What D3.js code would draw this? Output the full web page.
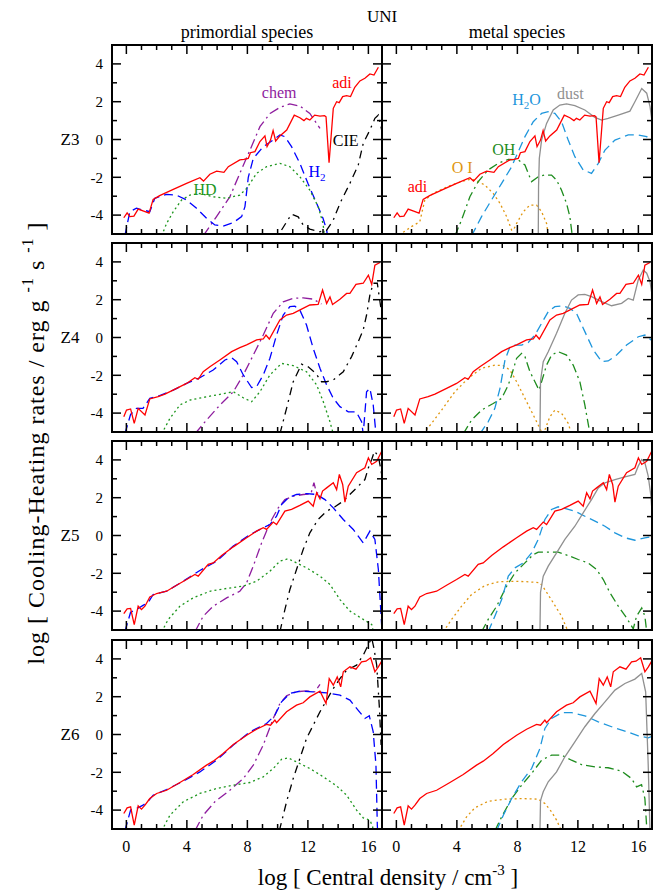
<!DOCTYPE html>
<html>
<head>
<meta charset="utf-8">
<script src="https://cdn.jsdelivr.net/npm/d3@7"></script>
<style>
  body { margin: 0; background: #fff; }
</style>
</head>
<body>
<svg width="654" height="890" font-family="'Liberation Serif', 'DejaVu Serif', serif"></svg>
<script>
// row labels and axis ticks
const rowNames = ["Z3", "Z4", "Z5", "Z6"];
const xTicks = [0, 4, 8, 12, 16];
const yTicks = [-4, -2, 0, 2, 4];

// adiabatic heating (same curve in both columns)
const adiZ3 = [[-0.17,-4.14],[0.05,-3.88],[0.23,-4.08],[0.5,-4.05],[0.78,-3.68],[1.1,-3.78],[1.5,-3.9],[1.77,-3.17],[2.2,-2.97],[3.1,-2.64],[3.98,-2.32],[4.86,-2.02],[5.1,-2.2],[5.52,-1.84],[5.97,-1.67],[6.45,-1.74],[6.74,-1.44],[7.5,-1.08],[7.77,-1.05],[8.06,-1.0],[8.2,-0.7],[8.5,-0.64],[8.83,-0.11],[9.16,0.19],[9.3,-0.38],[9.53,-0.03],[9.7,0.47],[9.87,-0.08],[10.15,0.19],[10.6,0.5],[11.1,1.29],[11.47,1.15],[11.74,1.0],[11.9,1.12],[12.13,1.03],[12.45,1.29],[12.8,1.24],[13.1,1.26],[13.2,1.2],[13.4,-1.23],[13.68,1.65],[13.9,2.0],[14.07,1.95],[14.3,2.27],[14.56,2.32],[14.82,2.27],[15.1,2.76],[15.44,3.1],[15.77,3.24],[16.1,3.47],[16.37,3.41],[16.66,3.82]];
const adiZ4 = [[-0.17,-4.19],[0.01,-3.84],[0.28,-3.78],[0.52,-4.54],[0.78,-3.75],[1.23,-4.1],[1.55,-3.25],[2.1,-3.13],[2.55,-3.0],[3.32,-2.69],[3.98,-2.43],[4.53,-2.13],[4.75,-2.21],[5.08,-1.81],[5.52,-1.55],[6.18,-1.19],[6.96,-0.75],[7.5,-0.54],[7.95,-0.39],[8.61,-0.13],[9.05,-0.08],[9.23,0.13],[9.45,-0.08],[10.15,0.93],[10.59,1.19],[11.03,1.28],[11.58,1.5],[12.13,1.72],[12.68,1.75],[12.97,2.51],[13.24,1.8],[13.46,2.15],[13.63,1.75],[14.12,2.02],[14.56,2.33],[14.78,2.33],[15.18,2.81],[15.66,2.87],[16.0,3.3],[16.22,2.81],[16.43,3.83],[16.77,3.97]];
const adiZ5 = [[-0.17,-4.13],[0.05,-3.88],[0.28,-3.86],[0.52,-4.71],[0.78,-3.74],[1.0,-3.92],[1.23,-3.74],[1.55,-3.25],[2.0,-3.07],[2.66,-2.95],[3.32,-2.63],[3.98,-2.33],[4.53,-2.06],[4.75,-2.15],[5.41,-1.53],[5.74,-1.45],[6.3,-1.06],[7.07,-0.6],[7.95,-0.12],[8.61,0.23],[9.05,0.41],[9.27,0.32],[9.71,0.71],[9.93,0.58],[10.48,1.29],[10.92,1.38],[11.47,1.59],[12.02,1.82],[12.35,1.55],[12.58,2.26],[12.8,1.94],[12.97,2.35],[13.24,2.52],[13.68,2.79],[13.9,2.43],[14.08,3.23],[14.3,2.7],[14.45,1.76],[14.67,2.61],[15.22,3.32],[15.77,3.58],[16.0,4.11],[16.22,3.76],[16.55,3.93],[16.88,4.46]];
const adiZ6 = [[-0.17,-4.18],[0.05,-3.88],[0.28,-3.83],[0.52,-4.8],[0.78,-3.77],[1.0,-3.95],[1.23,-3.74],[1.55,-3.39],[2.0,-3.12],[2.66,-2.95],[3.54,-2.54],[4.42,-2.12],[5.3,-1.62],[5.74,-1.41],[6.4,-1.01],[7.07,-0.53],[7.95,-0.04],[8.61,0.28],[9.27,0.53],[9.53,0.49],[9.82,0.76],[9.93,0.63],[10.59,1.2],[11.25,1.55],[11.69,1.68],[12.13,1.99],[12.8,2.29],[13.2,1.64],[13.41,2.96],[13.68,2.61],[13.94,3.05],[14.17,2.52],[14.34,3.32],[14.78,3.58],[15.18,3.46],[15.55,3.84],[15.84,3.88],[16.15,4.06],[16.43,3.32],[16.66,3.58],[16.88,3.88]];

// primordial species
const h2Z3 = [[-0.1,-5.1],[0.23,-3.82],[0.67,-3.64],[1.1,-3.73],[1.55,-3.82],[1.88,-3.11],[2.66,-2.9],[3.3,-2.94],[3.98,-3.2],[4.64,-3.64],[5.3,-4.17],[5.85,-4.52],[6.4,-4.58],[7.06,-4.4],[7.62,-4.08],[7.84,-3.55],[8.06,-2.0],[8.39,-1.0],[9.05,-0.38],[9.7,-0.03],[10.15,0.24],[10.48,0.15],[10.92,-0.38],[11.47,-1.26],[12.0,-2.32],[12.58,-3.38],[13.0,-4.17],[13.24,-4.79],[13.3,-5.1]];
const chemZ3 = [[5.08,-5.1],[5.96,-4.08],[6.85,-3.02],[7.5,-1.79],[8.17,-0.56],[8.83,0.68],[9.5,1.38],[10.15,1.7],[10.81,1.88],[11.47,1.77],[12.13,1.38],[12.8,0.59]];
const hdZ3 = [[2.33,-5.1],[2.66,-4.44],[3.1,-3.82],[3.65,-3.2],[4.2,-2.94],[4.86,-2.85],[5.74,-3.03],[6.63,-3.11],[7.5,-2.94],[7.95,-2.59],[8.61,-1.79],[9.27,-1.44],[10.15,-1.26],[10.81,-1.44],[11.47,-1.97],[12.13,-2.68],[12.68,-3.55],[13.0,-4.44],[13.1,-5.1]];
const cieZ3 = [[10.26,-4.79],[10.6,-4.35],[10.92,-3.95],[11.36,-4.09],[11.69,-4.52],[12.13,-4.74],[12.8,-4.88],[13.24,-4.8],[13.68,-4.26],[14.12,-3.38],[14.78,-2.32],[15.33,-1.35],[15.66,-0.2],[16.1,0.5],[16.43,1.12],[16.66,1.3],[16.88,0.5]];

const h2Z4 = [[-0.1,-5.1],[0.28,-4.07],[0.67,-3.75],[1.1,-3.75],[1.55,-3.22],[2.2,-3.08],[3.1,-2.78],[3.98,-2.43],[4.86,-2.13],[5.74,-1.72],[6.52,-1.19],[6.96,-1.07],[7.29,-1.28],[7.73,-1.98],[8.28,-2.65],[8.61,-2.6],[9.05,-1.98],[9.49,-1.1],[9.93,0.13],[10.37,1.19],[10.81,1.63],[11.14,1.66],[11.47,1.45],[11.91,0.66],[12.35,-0.57],[12.8,-1.63],[13.24,-2.51],[13.68,-3.22],[14.12,-3.66],[14.67,-3.93],[15.2,-3.93],[15.55,-4.46],[15.66,-5.1],[15.88,-2.87],[16.1,-2.69],[16.32,-3.57],[16.5,-5.1]];
const chemZ4 = [[4.53,-5.1],[5.3,-4.37],[6.18,-3.58],[7.07,-2.87],[7.73,-1.98],[8.39,-0.93],[9.05,0.13],[9.71,1.28],[10.37,1.89],[11.03,2.07],[11.69,2.1],[12.35,2.03],[12.9,1.77]];
const hdZ4 = [[2.33,-5.1],[2.88,-4.28],[3.54,-3.57],[4.2,-3.31],[5.08,-3.17],[6.18,-3.01],[7.07,-2.87],[7.73,-3.19],[8.28,-3.4],[8.83,-2.87],[9.49,-1.98],[10.26,-1.37],[11.03,-1.49],[11.91,-1.81],[12.58,-2.51],[13.02,-3.4],[13.46,-4.46],[13.68,-5.1]];
const cieZ4 = [[10.15,-5.1],[10.59,-3.75],[11.03,-2.34],[11.58,-1.41],[12.02,-1.55],[12.53,-1.9],[12.9,-2.34],[13.24,-2.34],[13.68,-2.25],[14.34,-1.81],[14.89,-1.01],[15.33,-0.22],[15.66,0.4],[15.88,1.19],[16.1,2.25],[16.32,2.87],[16.59,2.87],[16.83,1.54]];

const h2Z5 = [[-0.1,-5.1],[0.28,-4.06],[0.67,-3.92],[1.1,-3.7],[1.44,-3.56],[1.77,-3.12],[2.66,-2.95],[3.76,-2.42],[4.86,-1.85],[5.96,-1.36],[7.07,-0.56],[8.17,0.05],[9.05,0.41],[9.49,0.58],[9.93,1.02],[10.26,1.64],[10.7,1.99],[11.25,2.17],[11.91,2.22],[12.58,2.17],[13.13,1.9],[13.68,1.46],[14.34,0.85],[15.0,0.32],[15.66,-0.39],[16.1,0.23],[16.43,-0.21],[16.66,-1.8],[16.88,-4.8],[16.95,-5.2]];
const chemZ5 = [[4.53,-5.1],[5.08,-4.27],[5.74,-3.74],[6.63,-3.3],[7.5,-2.95],[7.95,-2.5],[8.39,-1.62],[8.94,-0.39],[9.49,0.67],[10.04,1.46],[10.48,1.9],[11.03,2.08],[11.69,2.17],[12.2,2.2],[12.4,2.8],[12.55,2.3],[12.9,2.1]];
const hdZ5 = [[2.33,-5.1],[2.77,-4.44],[3.54,-3.74],[4.42,-3.3],[5.52,-2.95],[6.63,-2.8],[7.73,-2.68],[8.61,-2.42],[9.49,-1.89],[10.15,-1.36],[10.7,-1.23],[11.25,-1.45],[11.91,-1.71],[12.8,-2.15],[13.46,-2.59],[14.12,-3.39],[14.78,-4.0],[15.66,-4.44],[16.22,-4.71],[16.33,-5.1]];
const cieZ5 = [[10.15,-5.1],[10.48,-3.92],[10.81,-2.86],[11.25,-1.8],[11.69,-0.74],[12.13,0.14],[12.68,0.85],[13.24,1.29],[13.79,1.52],[14.34,1.82],[14.89,2.26],[15.33,2.61],[15.77,2.96],[16.0,3.58],[16.22,4.02],[16.4,4.46],[16.66,4.2],[16.88,3.23]];

const h2Z6 = [[-0.1,-5.1],[0.28,-4.0],[0.67,-3.92],[1.1,-3.74],[1.5,-3.47],[1.77,-3.21],[2.66,-2.91],[3.76,-2.47],[4.86,-1.98],[5.96,-1.36],[7.07,-0.56],[8.17,0.14],[9.27,0.58],[9.82,1.02],[10.26,1.73],[10.81,2.17],[11.47,2.29],[12.35,2.26],[13.24,2.2],[14.12,2.08],[14.78,1.82],[15.22,1.38],[15.77,0.85],[16.06,0.99],[16.32,0.14],[16.5,-1.62],[16.59,-4.8],[16.62,-5.2]];
const chemZ6 = [[4.53,-5.1],[5.08,-4.27],[5.85,-3.56],[6.84,-2.95],[7.73,-2.33],[8.39,-1.62],[9.05,-0.56],[9.71,0.85],[10.15,1.64],[10.59,2.05],[11.25,2.26],[11.91,2.31],[12.46,2.26],[12.8,2.65]];
const hdZ6 = [[2.33,-5.1],[2.88,-4.27],[3.76,-3.56],[4.86,-3.12],[5.96,-2.86],[7.07,-2.68],[8.17,-2.54],[9.05,-2.24],[9.71,-1.8],[10.26,-1.31],[10.7,-1.24],[11.25,-1.45],[12.13,-1.8],[13.02,-2.24],[13.9,-2.72],[14.56,-3.21],[15.22,-4.0],[15.66,-4.41],[16.1,-4.53],[16.28,-4.88],[16.32,-5.1]];
const cieZ6 = [[10.11,-5.1],[10.59,-3.56],[11.03,-2.33],[11.47,-1.27],[11.91,-0.21],[12.35,0.49],[12.8,1.2],[13.24,1.82],[13.68,2.43],[14.12,2.96],[14.56,3.4],[15.22,3.67],[15.66,4.2],[16.0,4.76],[16.22,5.1],[16.37,4.55],[16.55,3.67],[16.73,1.38],[16.84,-0.56]];

// metal species
const oiZ3 = [[0.45,-4.91],[1.0,-4.61],[1.55,-4.35],[1.88,-3.2],[2.44,-2.85],[2.99,-2.64],[3.65,-2.41],[4.31,-2.23],[4.97,-2.09],[5.3,-2.18],[5.85,-2.41],[6.4,-2.85],[6.85,-3.38],[7.29,-4.08],[7.62,-4.79],[7.73,-4.8],[7.95,-4.44],[8.39,-3.82],[8.83,-3.47],[9.27,-3.47],[9.6,-3.82],[9.93,-4.44],[10.04,-5.1]];
const ohZ3 = [[3.87,-5.1],[4.31,-4.26],[4.86,-3.03],[5.41,-2.23],[6.07,-1.61],[6.74,-1.26],[7.4,-1.05],[8.06,-1.08],[8.5,-1.35],[8.72,-1.79],[8.94,-2.23],[9.38,-1.97],[9.82,-1.88],[10.26,-1.88],[10.59,-2.15],[10.92,-2.68],[11.25,-3.38],[11.47,-4.08],[11.63,-5.1]];
const h2oZ3 = [[4.97,-5.1],[5.63,-4.08],[6.29,-3.2],[6.96,-2.32],[7.62,-1.44],[8.06,-0.64],[8.5,0.15],[9.05,0.94],[9.6,1.38],[10.04,1.47],[10.48,1.38],[10.92,0.94],[11.36,-0.03],[11.8,-0.91],[12.35,-1.61],[12.9,-1.79],[13.35,-1.26],[13.79,-0.56],[14.45,-0.03],[15.33,0.24],[16.0,0.24],[16.55,0.15],[16.88,-0.11]];
const dustZ3 = [[9.38,-5.2],[9.4,-2.5],[9.45,-1.0],[9.6,-0.03],[9.93,0.85],[10.37,1.56],[10.81,1.82],[11.25,1.88],[11.8,1.79],[12.46,1.56],[13.12,1.17],[13.57,1.03],[14.0,1.12],[14.67,1.29],[15.44,1.5],[15.77,2.0],[16.22,2.7],[16.55,2.45],[16.77,1.74],[16.88,1.1]];

const oiZ4 = [[1.77,-5.1],[2.33,-4.54],[2.99,-3.84],[3.87,-2.87],[4.75,-2.16],[5.63,-1.63],[6.51,-1.46],[7.07,-1.49],[7.51,-1.72],[7.95,-2.34],[8.5,-3.22],[9.05,-4.1],[9.49,-4.81],[9.65,-5.1],[9.82,-4.89],[10.15,-4.19],[10.48,-3.84],[10.92,-4.01],[11.36,-4.54],[11.58,-5.1]];
const ohZ4 = [[4.42,-5.1],[4.97,-4.37],[5.63,-3.84],[6.4,-3.49],[6.96,-3.22],[7.4,-2.51],[7.62,-1.98],[7.95,-1.1],[8.28,-0.84],[8.5,-1.01],[8.83,-1.81],[9.16,-2.34],[9.43,-2.78],[9.6,-2.34],[9.93,-1.46],[10.26,-0.93],[10.7,-0.75],[11.25,-0.93],[11.69,-1.46],[12.13,-2.34],[12.46,-3.57],[12.8,-5.1]];
const h2oZ4 = [[5.52,-5.1],[6.07,-4.46],[6.51,-3.75],[6.85,-2.69],[7.18,-1.19],[7.51,-0.49],[7.84,-0.4],[8.28,-0.4],[8.72,-0.26],[9.16,0.13],[9.6,0.75],[10.04,1.37],[10.48,1.63],[11.03,1.68],[11.47,1.54],[11.91,1.28],[12.46,0.31],[13.02,-0.66],[13.57,-1.28],[14.0,-1.24],[14.56,-0.93],[15.22,-0.4],[16.0,0.04],[16.43,0.13],[16.99,-0.22]];
const dustZ4 = [[9.49,-5.2],[9.53,-2.3],[9.71,-1.28],[10.04,-0.75],[10.59,0.22],[11.14,1.28],[11.58,1.98],[12.02,2.25],[12.46,2.28],[12.9,2.16],[13.57,1.9],[14.23,1.68],[14.89,1.81],[15.33,2.07],[15.66,1.98],[15.99,3.04],[16.32,3.57],[16.55,3.4],[16.77,2.95],[16.92,2.16]];

const oiZ5 = [[3.1,-5.1],[3.65,-4.44],[4.31,-3.74],[4.97,-3.12],[5.85,-2.65],[6.74,-2.45],[7.84,-2.42],[8.72,-2.45],[9.49,-2.5],[9.82,-2.86],[10.37,-3.56],[10.92,-4.27],[11.36,-5.1]];
const ohZ5 = [[5.63,-5.1],[6.07,-4.44],[6.63,-3.74],[7.29,-2.68],[7.84,-1.98],[8.5,-1.45],[9.05,-1.01],[9.38,-0.88],[10.04,-0.88],[10.7,-0.88],[11.36,-1.06],[12.02,-1.27],[12.68,-1.45],[13.24,-1.8],[13.68,-2.33],[14.12,-3.03],[14.67,-3.74],[15.22,-4.36],[15.66,-4.94],[15.88,-4.27],[16.22,-3.83],[16.43,-4.27],[16.55,-5.1]];
const h2oZ5 = [[6.07,-5.1],[6.51,-4.27],[6.96,-3.39],[7.4,-2.15],[7.84,-1.71],[8.39,-1.45],[8.94,-0.92],[9.38,-0.21],[9.82,0.85],[10.26,1.38],[10.7,1.52],[11.25,1.41],[11.8,1.29],[12.46,1.02],[13.13,0.76],[13.79,0.49],[14.45,0.14],[15.11,-0.12],[15.77,-0.25],[16.43,-0.12],[16.92,-0.07]];
const dustZ5 = [[9.49,-5.2],[9.53,-3.0],[9.71,-2.15],[10.04,-1.62],[10.59,-0.92],[11.14,-0.21],[11.8,0.49],[12.35,1.2],[12.9,1.9],[13.35,2.52],[13.79,2.79],[14.45,2.96],[15.11,3.1],[15.77,3.23],[15.99,3.67],[16.22,4.02],[16.43,3.84],[16.65,3.14],[16.83,2.08],[16.92,1.02]];

const oiZ6 = [[4.09,-5.1],[4.64,-4.36],[5.19,-3.88],[6.07,-3.53],[7.18,-3.42],[8.28,-3.39],[9.38,-3.42],[9.82,-3.65],[10.26,-4.09],[10.59,-4.53],[10.92,-5.1]];
const ohZ6 = [[6.51,-5.1],[6.96,-4.36],[7.62,-3.39],[8.28,-2.68],[8.94,-2.06],[9.6,-1.36],[10.26,-1.09],[10.92,-1.09],[11.58,-1.36],[12.24,-1.59],[13.13,-1.71],[14.0,-1.76],[14.89,-1.94],[15.55,-2.33],[15.88,-2.77],[16.21,-2.65],[16.43,-3.39],[16.55,-4.9],[16.62,-5.1]];
const h2oZ6 = [[6.62,-5.1],[7.07,-4.27],[7.62,-3.39],[8.28,-2.5],[8.94,-1.8],[9.49,-0.74],[9.82,0.32],[10.26,0.85],[10.92,1.15],[11.58,1.16],[12.46,0.99],[13.35,0.67],[14.23,0.41],[15.11,0.18],[16.0,-0.07],[16.65,-0.18],[16.99,-0.07]];
const dustZ6 = [[9.49,-5.2],[9.53,-3.5],[9.71,-3.03],[10.04,-2.5],[10.59,-1.98],[11.14,-1.18],[11.8,-0.39],[12.46,0.41],[13.13,1.11],[13.79,1.73],[14.45,2.35],[15.11,2.7],[15.77,2.93],[16.22,3.23],[16.48,2.26],[16.65,-1.62],[16.77,-5.2]];

// line styles per species
const styles = {
  adi:  { color: "#ff0000", dash: null },
  h2:   { color: "#0000ff", dash: "9,5" },
  chem: { color: "#8e1c9e", dash: "10,4,2,4" },
  hd:   { color: "#1e961e", dash: "2,3" },
  cie:  { color: "#000000", dash: "8,5,2,5" },
  oi:   { color: "#e0960f", dash: "2,3" },
  oh:   { color: "#1e8c1e", dash: "9,4,2,4" },
  h2o:  { color: "#1e96dc", dash: "9,5" },
  dust: { color: "#909090", dash: null }
};

const adiRows = [adiZ3, adiZ4, adiZ5, adiZ6];
const leftRows = [
  { chem: chemZ3, h2: h2Z3, hd: hdZ3, cie: cieZ3 },
  { chem: chemZ4, h2: h2Z4, hd: hdZ4, cie: cieZ4 },
  { chem: chemZ5, h2: h2Z5, hd: hdZ5, cie: cieZ5 },
  { chem: chemZ6, h2: h2Z6, hd: hdZ6, cie: cieZ6 }
];
const rightRows = [
  { oi: oiZ3, oh: ohZ3, h2o: h2oZ3, dust: dustZ3 },
  { oi: oiZ4, oh: ohZ4, h2o: h2oZ4, dust: dustZ4 },
  { oi: oiZ5, oh: ohZ5, h2o: h2oZ5, dust: dustZ5 },
  { oi: oiZ6, oh: ohZ6, h2o: h2oZ6, dust: dustZ6 }
];

// layout
const svg = d3.select("svg");
const serif = "'Liberation Serif', 'DejaVu Serif', serif";
const colX = [112, 382];
const rowY = [45, 243, 441, 640];
const pw = 270, ph = 189;

const x = d3.scaleLinear().domain([-0.95, 16.9]).range([0, pw]);
const y = d3.scaleLinear().domain([-5, 5]).range([ph, 0]);
const line = d3.line().x(d => x(d[0])).y(d => y(d[1]));

svg.append("defs").append("clipPath").attr("id", "clip")
  .append("rect").attr("width", pw).attr("height", ph);

function drawPanel(g, series, ri, ci) {
  const curves = g.append("g").attr("clip-path", "url(#clip)");
  Object.keys(series).forEach(k => {
    const st = styles[k];
    curves.append("path")
      .attr("d", line(series[k]))
      .attr("fill", "none")
      .attr("stroke", st.color)
      .attr("stroke-width", 1.3)
      .attr("stroke-dasharray", st.dash);
  });
  curves.append("path")
    .attr("d", line(adiRows[ri]))
    .attr("fill", "none")
    .attr("stroke", styles.adi.color)
    .attr("stroke-width", 1.3);

  // ticks on all four sides
  const tk = g.append("g").attr("stroke", "#000").attr("stroke-width", 1.5);
  d3.range(0, 17).forEach(v => {
    const len = v % 4 === 0 ? 9 : 5;
    tk.append("line").attr("x1", x(v)).attr("x2", x(v)).attr("y1", ph).attr("y2", ph - len);
    tk.append("line").attr("x1", x(v)).attr("x2", x(v)).attr("y1", 0).attr("y2", len);
  });
  d3.range(-4, 5).forEach(v => {
    const len = v % 2 === 0 ? 9 : 5;
    tk.append("line").attr("x1", 0).attr("x2", len).attr("y1", y(v)).attr("y2", y(v));
    tk.append("line").attr("x1", pw).attr("x2", pw - len).attr("y1", y(v)).attr("y2", y(v));
  });

  g.append("rect").attr("width", pw).attr("height", ph)
    .attr("fill", "none").attr("stroke", "#000").attr("stroke-width", 2);

  if (ci === 0) {
    g.selectAll(".ylab").data(yTicks).enter().append("text")
      .attr("x", -9).attr("y", d => y(d)).attr("dy", "0.35em")
      .attr("text-anchor", "end").attr("font-size", 15)
      .attr("font-family", serif)
      .text(d => d);
    g.append("text").attr("x", -42).attr("y", y(0)).attr("dy", "0.35em")
      .attr("text-anchor", "middle").attr("font-size", 17)
      .attr("font-family", serif)
      .text(rowNames[ri]);
  }
  if (ri === 3) {
    g.selectAll(".xlab").data(xTicks).enter().append("text")
      .attr("x", d => x(d)).attr("y", ph + 23)
      .attr("text-anchor", "middle").attr("font-size", 16)
      .attr("font-family", serif)
      .text(d => d);
  }
}

rowY.forEach((ty, ri) => {
  const gl = svg.append("g").attr("transform", `translate(${colX[0]},${ty})`);
  drawPanel(gl, leftRows[ri], ri, 0);
  const gr = svg.append("g").attr("transform", `translate(${colX[1]},${ty})`);
  drawPanel(gr, rightRows[ri], ri, 1);
});

// curve labels in the top row
function label(col, tx, ty, txt, color, sub, after) {
  const t = svg.append("text")
    .attr("x", colX[col] + x(tx)).attr("y", rowY[0] + y(ty))
    .attr("text-anchor", "middle").attr("font-size", 16)
    .attr("font-family", serif)
    .attr("fill", color).text(txt);
  if (sub) {
    t.append("tspan").attr("font-size", 11).attr("dy", 4).text(sub);
    if (after) t.append("tspan").attr("dy", -4).text(after);
  }
}
label(0, 10.1, 2.2, "chem", styles.chem.color);
label(0, 14.25, 2.7, "adi", styles.adi.color);
label(0, 14.5, -0.35, "CIE", "#000");
label(0, 12.6, -2.0, "H", styles.h2.color, "2");
label(0, 5.2, -2.95, "HD", styles.hd.color);
label(1, 11.5, 2.15, "dust", styles.dust.color);
label(1, 8.6, 1.8, "H", styles.h2o.color, "2", "O");
label(1, 7.1, -0.8, "OH", styles.oh.color);
label(1, 4.35, -1.75, "O I", styles.oi.color);
label(1, 1.4, -2.8, "adi", styles.adi.color);

// titles
svg.append("text").attr("x", 382).attr("y", 22).attr("text-anchor", "middle")
  .attr("font-family", serif).attr("font-size", 17).text("UNI");
svg.append("text").attr("x", colX[0] + pw / 2).attr("y", 38).attr("text-anchor", "middle")
  .attr("font-family", serif).attr("font-size", 18).text("primordial species");
svg.append("text").attr("x", colX[1] + pw / 2).attr("y", 38).attr("text-anchor", "middle")
  .attr("font-family", serif).attr("font-size", 18).text("metal species");

const xt = svg.append("text").attr("x", 388).attr("y", 885)
  .attr("text-anchor", "middle").attr("font-size", 23).attr("font-family", serif)
  .text("log [ Central density / cm");
xt.append("tspan").attr("font-size", 15).attr("dy", -10).text("-3");
xt.append("tspan").attr("dy", 10).text(" ]");

const yt = svg.append("text").attr("transform", "translate(44,443) rotate(-90)")
  .attr("text-anchor", "middle").attr("font-size", 24).attr("font-family", serif)
  .attr("letter-spacing", 1)
  .text("log [ Cooling-Heating rates / erg g  ");
yt.append("tspan").attr("font-size", 16).attr("dy", -11).text("-1");
yt.append("tspan").attr("dy", 11).text("  s  ");
yt.append("tspan").attr("font-size", 16).attr("dy", -11).text("-1");
yt.append("tspan").attr("dy", 11).text("  ]");
</script>
</body>
</html>
